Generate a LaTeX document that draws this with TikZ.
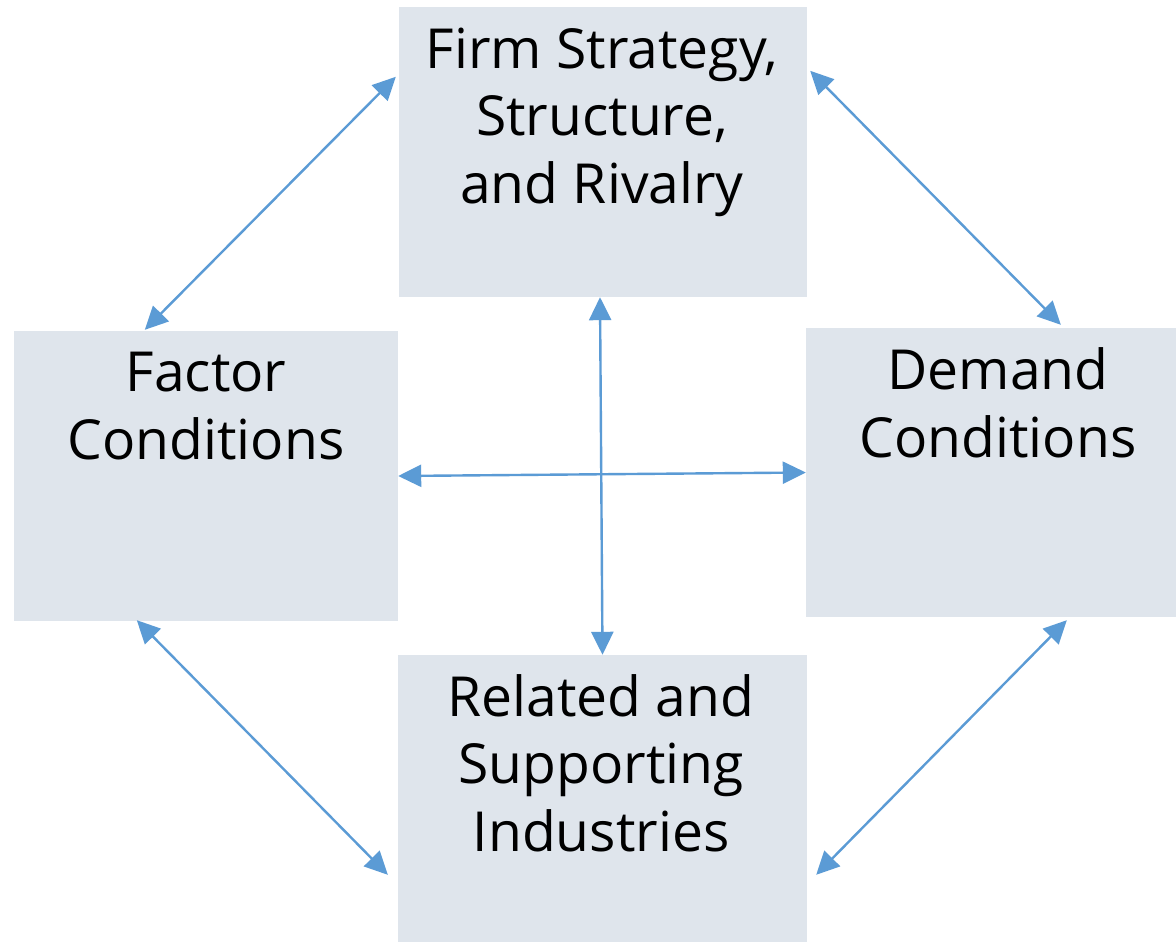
\documentclass[tikz,border=0pt]{standalone}
\usepackage{fontspec}
\setmainfont{Open Sans}
\usetikzlibrary{arrows.meta}
\definecolor{boxfill}{HTML}{DFE5EC}
\definecolor{arrowblue}{HTML}{5B9BD5}
\tikzset{
  box/.style={rectangle, fill=boxfill, draw=none, inner sep=0pt},
  lbl/.style={align=center, inner sep=0pt, font=\fontsize{55.2}{67.3}\selectfont},
  arr/.style={draw=arrowblue, line width=2.4pt, {Triangle[length=23pt,width=22pt]}-{Triangle[length=23pt,width=22pt]}}
}
\begin{document}
\begin{tikzpicture}[x=1pt,y=-1pt]
\clip (0,0) rectangle (1176,942);
\fill[white] (0,0) rectangle (1176,942);
% boxes
\node[box, minimum width=408pt, minimum height=290pt] (top) at (603,152) {};
\node[box, minimum width=384pt, minimum height=290pt] (left) at (206,476) {};
\node[box, minimum width=384pt, minimum height=289pt] (right) at (998,472.5) {};
\node[box, minimum width=409pt, minimum height=290pt] (bottom) at (602.5,800) {};
% labels (anchor base = last line's baseline)
\node[lbl, anchor=base] (toptxt) at (602,203) {Firm Strategy,\\Structure,\\and Rivalry};
\node[lbl, anchor=base] (lefttxt) at (206,459) {Factor\\Conditions};
\node[lbl, anchor=base] (righttxt) at (998,457) {Demand\\Conditions};
\node[lbl, anchor=base] (bottxt) at (601,851) {Related and\\Supporting\\Industries};
% connectors
\draw[arr] ([shift={(-3,70)}]top.north west) -- ([shift={(131,-1)}]left.north west);
\draw[arr] ([shift={(3,64)}]top.north east) -- ([shift={(255,-3)}]right.north west);
\draw[arr] ([shift={(123,-1)}]left.south west) -- ([shift={(-10,220)}]bottom.north west);
\draw[arr] ([shift={(261,3)}]right.south west) -- ([shift={(9,220)}]bottom.north east);
\draw[arr] ([shift={(-3,0)}]top.south) -- (bottom.north);
\draw[arr] (left.east) -- (right.west);
\end{tikzpicture}
\end{document}
